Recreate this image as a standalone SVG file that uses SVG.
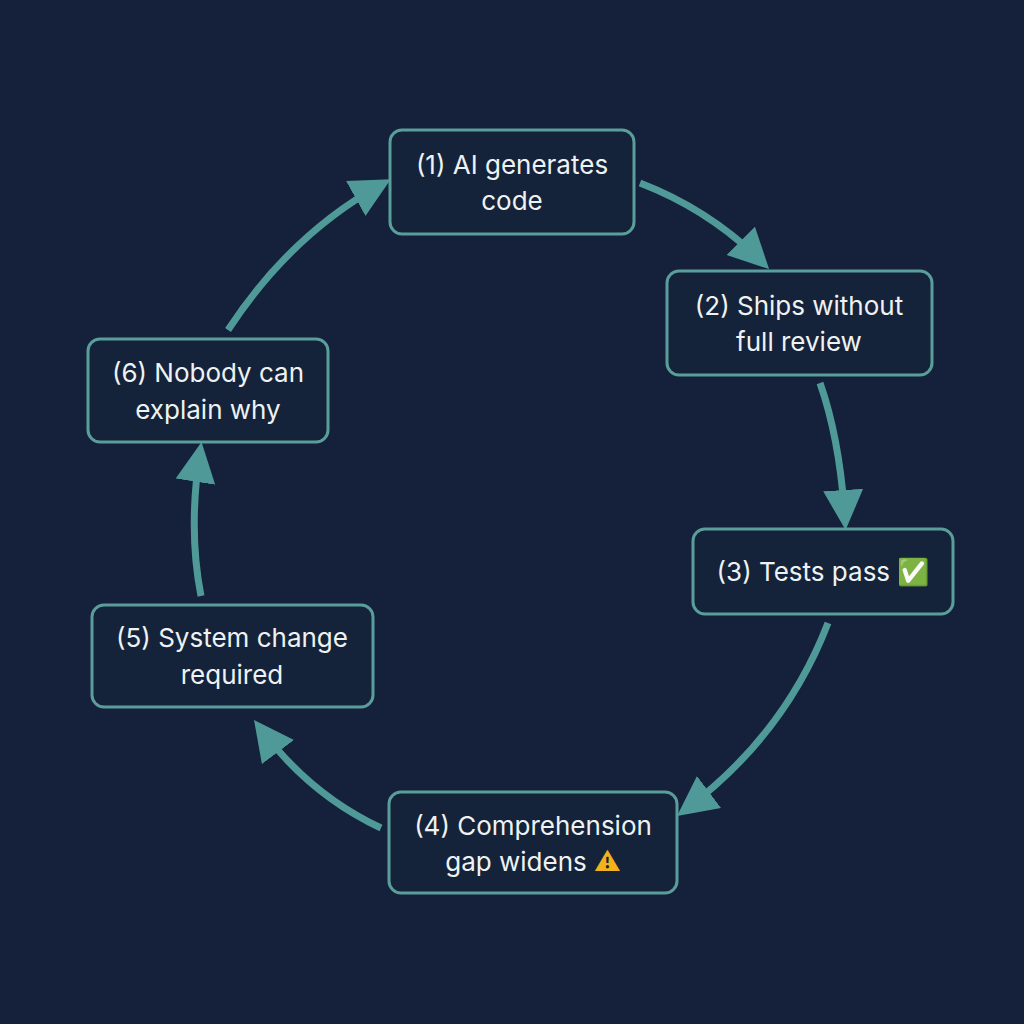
<svg xmlns="http://www.w3.org/2000/svg" width="1024" height="1024" viewBox="0 0 1024 1024">
<style>
.box{fill:#15233a;stroke:#5a9e9c;stroke-width:3}
.t{font-family:Inter,"Noto Sans","DejaVu Sans",sans-serif;font-size:26px;fill:#eef2f2;text-anchor:middle}
.c{fill:none;stroke:#4f9a98;stroke-width:7;stroke-linecap:butt}
</style>
<defs>
<marker id="ah" markerUnits="userSpaceOnUse" markerWidth="44" markerHeight="44" viewBox="0 0 44 44" refX="30" refY="22" orient="auto">
<path d="M0,2 L40,22 L0,42 Z" fill="#4f9a98"/>
</marker>
</defs>
<rect width="1024" height="1024" fill="#15213a"/>
<g id="connectors">
<path class="c" d="M640,183 Q710,210 762,262" marker-end="url(#ah)"/>
<path class="c" d="M820,383 Q840,440 845,520" marker-end="url(#ah)"/>
<path class="c" d="M828,623 Q785,735 685,810" marker-end="url(#ah)"/>
<path class="c" d="M381,828 Q310,795 260,728" marker-end="url(#ah)"/>
<path class="c" d="M201,596 Q188,530 200,452" marker-end="url(#ah)"/>
<path class="c" d="M228,330 Q290,235 382,184" marker-end="url(#ah)"/>
</g>
<g id="n1"><rect class="box" x="390" y="130" width="244" height="104" rx="12"/>
<text class="t" x="512" y="174">(1) AI generates</text><text class="t" x="512" y="210">code</text></g>
<g id="n2"><rect class="box" x="667" y="271" width="265" height="104" rx="12"/>
<text class="t" x="799" y="315">(2) Ships without</text><text class="t" x="799" y="351">full review</text></g>
<g id="n3"><rect class="box" x="693" y="529" width="260" height="85" rx="12"/>
<text class="t" x="823" y="581">(3) Tests pass <tspan fill="#4cbb3a">✅</tspan></text></g>
<g id="n4"><rect class="box" x="389" y="792" width="288" height="101" rx="12"/>
<text class="t" x="533" y="835">(4) Comprehension</text><text class="t" x="533" y="871">gap widens <tspan fill="#f2b21b">⚠</tspan></text></g>
<g id="n5"><rect class="box" x="92" y="605" width="281" height="102" rx="12"/>
<text class="t" x="232" y="647">(5) System change</text><text class="t" x="232" y="684">required</text></g>
<g id="n6"><rect class="box" x="88" y="339" width="240" height="103" rx="12"/>
<text class="t" x="208" y="382">(6) Nobody can</text><text class="t" x="208" y="419">explain why</text></g>
</svg>
